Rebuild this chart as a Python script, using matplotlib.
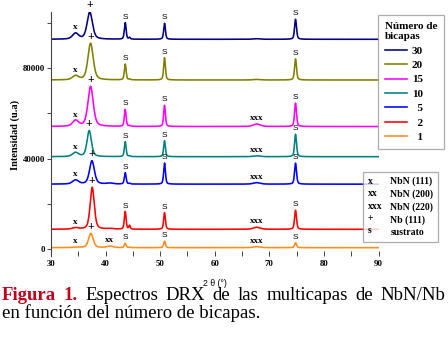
import numpy as np
import matplotlib
matplotlib.use("Agg")
import matplotlib.pyplot as plt
from matplotlib.lines import Line2D
from matplotlib.ticker import MultipleLocator

# ---------------- data ----------------
bicapas = ["30", "20", "15", "10", "5", "2", "1"]
colors = ["#000080", "#808000", "#FF00FF", "#008080", "#0000FF", "#FF0000", "#FF8C1A"]
baseline = [92640, 74700, 54200, 40900, 28800, 8900, 800]

# NbN (111) "x" bump
nbn111_pos = 34.5
nbn111_amp = [2600, 1800, 2600, 1800, 1800, 650, 200]
# NbN (200) "xx" bump
nbn200_pos = 40.8
nbn200_amp = [0, 0, 0, 0, 400, 300, 650]
# Nb (111) "+" peak
nb111_pos = [37.1, 37.25, 37.25, 37.0, 37.5, 37.55, 37.3]
nb111_amp = [12000, 16200, 17700, 11500, 10300, 18500, 6300]
nb111_fwhm = [1.15, 1.15, 1.15, 0.95, 1.05, 0.9, 1.0]
# NbN (220) "xxx" bump
nbn220_pos = 67.7
nbn220_amp = [250, 250, 1100, 400, 650, 900, 450]
# substrate "S" peaks
sub_pos = [43.6, 50.8, 74.8]
sub1_amp = [7300, 7000, 7500, 6600, 5000, 7800, 1900]
sub2_amp = [7000, 9800, 9300, 7000, 9300, 7300, 2900]
sub3_amp = [8800, 9300, 10300, 9900, 9250, 8400, 2200]
sub_minor_pos = 44.4
sub_minor_amp = [700, 300, 300, 300, 300, 1600, 200]

# which labels each spectrum carries
has_xx = [False, False, False, False, False, False, True]
has_xxx = [False, False, True, True, True, True, True]

x_ticks = [30, 40, 50, 60, 70, 80, 90]
y_ticks = [0, 40000, 80000]

# ---------------- figure ----------------
W, H = 448, 357
fig = plt.figure(figsize=(W / 100, H / 100), dpi=100)
ax = fig.add_axes([51 / W, 1 - 256 / H, (378.5 - 51) / W, (256 - 12) / H])

serif = ["Liberation Serif", "DejaVu Serif"]
sans = ["Liberation Sans", "DejaVu Sans"]


def pv(x, c, amp, fwhm, eta=0.45):
    d = 4 * (x - c) ** 2 / fwhm ** 2
    return amp * (eta / (1 + d) + (1 - eta) * np.exp(-np.log(2) * d))


tt = np.linspace(30, 90, 1801)
lines = []
for i, lab in enumerate(bicapas):
    y = np.full_like(tt, baseline[i], dtype=float)
    y += pv(tt, nbn111_pos, nbn111_amp[i], 1.3)
    y += pv(tt, nbn200_pos, nbn200_amp[i], 1.4)
    y += pv(tt, nb111_pos[i], nb111_amp[i], nb111_fwhm[i])
    y += pv(tt, nbn220_pos, nbn220_amp[i], 1.5)
    y += pv(tt, sub_pos[0], sub1_amp[i], 0.38)
    y += pv(tt, sub_pos[1], sub2_amp[i], 0.38)
    y += pv(tt, sub_pos[2], sub3_amp[i], 0.42)
    y += pv(tt, sub_minor_pos, sub_minor_amp[i], 0.3)
    ln, = ax.plot(tt, y, color=colors[i], lw=1.15, label=lab)
    lines.append(ln)

    b = baseline[i]
    kw_serif = dict(textcoords="offset points", ha="center", va="bottom",
                    family=serif, fontweight="bold", fontsize=6.5)
    kw_S = dict(textcoords="offset points", ha="center", va="bottom",
                family=sans, fontsize=6)
    ax.annotate("x", xy=(nbn111_pos, b + nbn111_amp[i]), xytext=(0, 1.5), **kw_serif)
    ax.annotate("+", xy=(nb111_pos[i], b + nb111_amp[i]), xytext=(0, 0.5),
                **{**kw_serif, "fontsize": 8.5})
    if has_xx[i]:
        ax.annotate("xx", xy=(nbn200_pos, b + nbn200_amp[i]), xytext=(0, 1.5), **kw_serif)
    if has_xxx[i]:
        ax.annotate("xxx", xy=(nbn220_pos, b + nbn220_amp[i]), xytext=(0, 1.5), **kw_serif)
    for p, a in zip(sub_pos, [sub1_amp[i], sub2_amp[i], sub3_amp[i]]):
        ax.annotate("S", xy=(p, b + a), xytext=(0, 1.5), **kw_S)

for t in ax.texts:
    t.set_clip_on(False)

ax.set_xlim(30, 90)
ax.set_ylim(-2865, 104666)
ax.set_xticks(x_ticks)
ax.xaxis.set_minor_locator(MultipleLocator(5))
ax.set_yticks(y_ticks)
ax.yaxis.set_minor_locator(MultipleLocator(20000))
for s in ["top", "right", "bottom"]:
    ax.spines[s].set_visible(False)
ax.spines["left"].set_color("#444444")
ax.spines["left"].set_linewidth(0.8)
ax.tick_params(axis="x", which="both", direction="in", length=3.5, width=0.7,
               color="#444444", pad=3)
ax.tick_params(axis="y", which="both", direction="out", length=3, width=0.7,
               color="#444444", pad=1)
for lab in ax.get_xticklabels() + ax.get_yticklabels():
    lab.set_family(serif)
    lab.set_fontweight("bold")
    lab.set_fontsize(6.3)

ax.set_xlabel("2 θ (°)", family=sans, fontsize=6.3, labelpad=8)
fig.text(15.6 / W, 1 - 135 / H, "Intensidad (u.a)", rotation=90, ha="center",
         va="center", family=serif, fontweight="bold", fontsize=7.4)

# legend 1: number of bilayers
leg_labels = ["30", "20", "15", "10", "  5", "  2", "  1"]
leg1 = fig.legend(lines, leg_labels, loc="upper left",
                  bbox_to_anchor=(378 / W, 1 - 15 / H), borderaxespad=0,
                  title="Número de\nbicapas", alignment="left",
                  prop=dict(family=serif, weight="bold", size=8),
                  title_fontproperties=dict(family=serif, weight="bold", size=8),
                  handlelength=2.05, handletextpad=0.4, borderpad=0.6,
                  labelspacing=0.42, frameon=True, fancybox=False)
leg1.get_frame().set_edgecolor("#999999")
leg1.get_frame().set_linewidth(0.9)

# legend 2: peak identification
sym = ["x", "xx", "xxx", "+", "s"]
names = ["NbN (111)", "NbN (200)", "NbN (220)", "Nb (111)", "sustrato"]
blank = [Line2D([], [], alpha=0) for _ in range(10)]
leg2 = fig.legend(blank, sym + names, loc="upper left", ncol=2,
                  bbox_to_anchor=(363 / W, 1 - 172 / H), borderaxespad=0,
                  prop=dict(family=serif, weight="bold", size=7),
                  handlelength=0, handletextpad=0, columnspacing=0.8,
                  borderpad=0.5, labelspacing=0.33, frameon=True, fancybox=False)
leg2.get_frame().set_edgecolor("#999999")
leg2.get_frame().set_linewidth(0.9)

# caption (justified first line)
fig.canvas.draw()
renderer = fig.canvas.get_renderer()
words = [("Figura", True), ("1.", True), ("Espectros", False), ("DRX", False),
         ("de", False), ("las", False), ("multicapas", False), ("de", False),
         ("NbN/Nb", False)]
cap_size = 13.5
objs = []
for w, bold in words:
    t = fig.text(0, 1 - 300 / H, w, family=serif, fontsize=cap_size,
                 fontweight="bold" if bold else "normal",
                 color="#C0001A" if bold else "black", va="baseline")
    objs.append(t)
widths = [o.get_window_extent(renderer).width for o in objs]
x0, x1 = 2, 445
gap = (x1 - x0 - sum(widths)) / (len(words) - 1)
xp = x0
for o, wd in zip(objs, widths):
    o.set_x(xp / W)
    xp += wd + gap
fig.text(2 / W, 1 - 317.7 / H, "en función del número de bicapas.", family=serif,
         fontsize=cap_size, color="black", va="baseline")

fig.savefig("out.png", dpi=100)
